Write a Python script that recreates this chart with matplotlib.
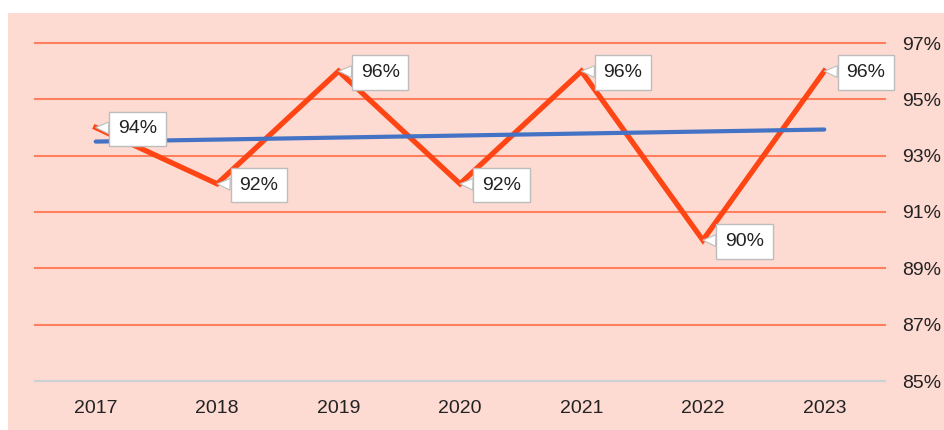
import matplotlib
matplotlib.use("Agg")
import matplotlib.pyplot as plt
import numpy as np

years = ["2017", "2018", "2019", "2020", "2021", "2022", "2023"]
values = [94, 92, 96, 92, 96, 90, 96]
yticks = [85, 87, 89, 91, 93, 95, 97]

plt.rcParams['font.family'] = ['Liberation Sans', 'DejaVu Sans']

W, H = 944, 430
fig = plt.figure(figsize=(W / 100, H / 100), dpi=100)
fig.patch.set_facecolor('white')

bg = plt.Rectangle((8 / W, 0), 1 - 8 / W, 1 - 13 / H, transform=fig.transFigure,
                   facecolor='#FDDAD2', edgecolor='none', zorder=-10)
fig.patches.append(bg)

ax = fig.add_axes([35 / W, (H - 381) / H, 850 / W, 338 / H])
ax.set_facecolor('none')
ax.set_zorder(5)

x = np.arange(len(years))
ax.set_xlim(-0.5, len(years) - 0.5)
ax.set_ylim(85, 97)

for t in yticks[1:]:
    ax.axhline(t, color='#FF7F5E', lw=1.5, zorder=1, clip_on=False)
ax.axhline(85, color='#C9D3D6', lw=1.5, zorder=1, clip_on=False)

ax.plot(x, values, color='#FF4513', lw=3.8, zorder=3, solid_joinstyle='miter')

coef = np.polyfit(x, values, 1)
trend = np.polyval(coef, x)
ax.plot(x, trend, color='#4472C4', lw=3, zorder=4, solid_capstyle='round')

for xi, v in zip(x, values):
    ax.annotate(f"{v}%", xy=(xi, v), xytext=(30, -1), textcoords='offset points',
                ha='center', va='center', fontsize=14, color='#222222', zorder=6,
                bbox=dict(boxstyle='square,pad=0.45', fc='white', ec='#BDBDBD', lw=1),
                arrowprops=dict(arrowstyle='wedge,tail_width=0.6,shrink_factor=0.5',
                                fc='white', ec='#BDBDBD', lw=0.8, shrinkA=0, shrinkB=0))

ax.set_xticks(x)
ax.set_xticklabels(years, fontsize=14, color='#222222')
ax.set_yticks(yticks)
ax.set_yticklabels([f"{t}%" for t in yticks], fontsize=14, color='#222222')
ax.yaxis.tick_right()
ax.tick_params(axis='both', length=0)
ax.tick_params(axis='x', pad=14)
ax.tick_params(axis='y', pad=12)
for s in ax.spines.values():
    s.set_visible(False)

fig.savefig("out.png", dpi=100, facecolor=fig.get_facecolor())
